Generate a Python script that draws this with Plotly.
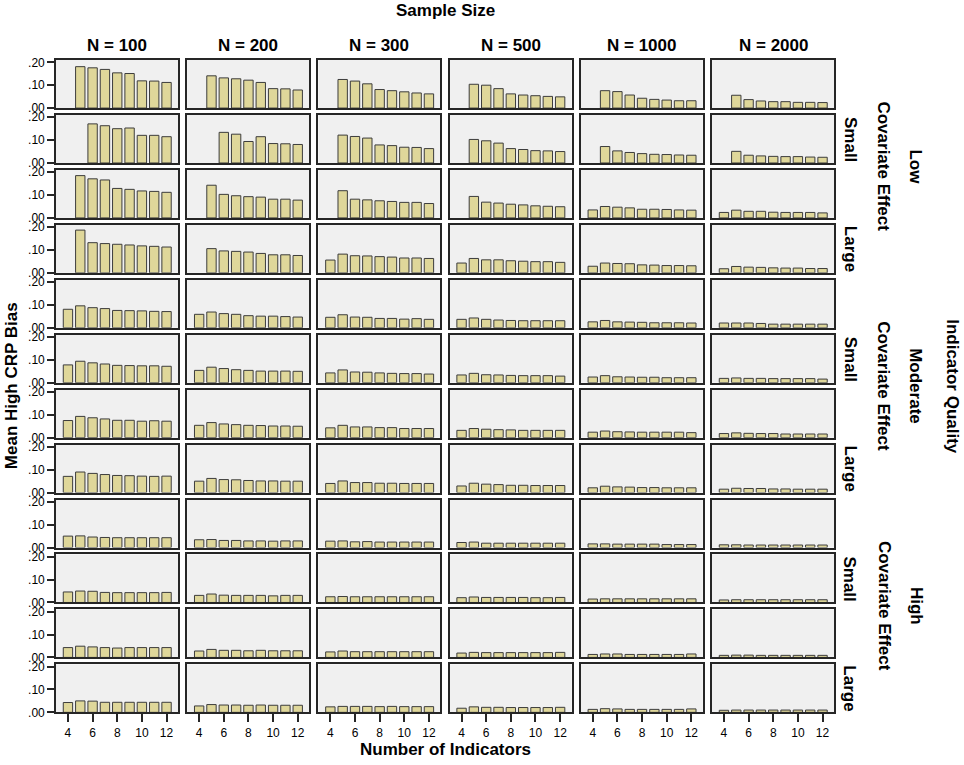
import plotly.graph_objects as go

# ---------------- data ----------------
indicators = [4, 5, 6, 7, 8, 9, 10, 11, 12]
sample_sizes = ["N = 100", "N = 200", "N = 300", "N = 500", "N = 1000", "N = 2000"]
quality_levels = ["Low", "Moderate", "High"]
covariate_levels = ["Small", "Large"]
x_tick_vals = [4, 6, 8, 10, 12]
y_tick_vals = [0.0, 0.1, 0.2]
y_tick_text = [".00", ".10", ".20"]

N = None  # no bar for this cell

# Low indicator quality
row01 = [
    [N, .181, .176, .169, .154, .151, .119, .118, .112],
    [N, .141, .132, .128, .122, .112, .085, .084, .079],
    [N, .125, .118, .106, .081, .076, .071, .066, .062],
    [N, .104, .100, .085, .062, .057, .054, .051, .049],
    [N, .076, .072, .057, .043, .038, .035, .032, .032],
    [N, .056, .037, .031, .028, .028, .025, .025, .024],
]
row02 = [
    [N, N, .171, .163, .150, .153, .121, .121, .115],
    [N, N, .134, .126, .094, .115, .085, .084, .081],
    [N, .122, .116, .109, .079, .076, .069, .068, .063],
    [N, .103, .097, .087, .063, .059, .054, .053, .050],
    [N, .072, .053, .046, .041, .038, .037, .035, .034],
    [N, .051, .034, .031, .029, .028, .028, .026, .025],
]
row03 = [
    [N, .185, .171, .166, .129, .125, .118, .116, .112],
    [N, .143, .103, .097, .093, .091, .082, .082, .078],
    [N, .119, .082, .079, .075, .072, .068, .068, .063],
    [N, .094, .069, .065, .060, .057, .053, .051, .049],
    [.035, .050, .047, .044, .038, .038, .037, .035, .034],
    [.024, .034, .029, .029, .025, .024, .024, .024, .022],
]
row04 = [
    [N, .187, .132, .128, .125, .122, .118, .116, .113],
    [N, .106, .096, .094, .091, .085, .079, .079, .076],
    [.056, .082, .075, .074, .071, .069, .065, .065, .063],
    [.043, .063, .057, .057, .053, .051, .049, .049, .046],
    [.029, .043, .041, .040, .035, .034, .032, .032, .031],
    [.018, .028, .025, .024, .022, .021, .021, .019, .019],
]
# Moderate indicator quality
row05 = [
    [.081, .096, .088, .084, .076, .075, .074, .072, .071],
    [.059, .069, .062, .059, .053, .051, .051, .049, .047],
    [.046, .057, .047, .046, .041, .041, .038, .040, .037],
    [.037, .043, .037, .034, .032, .031, .031, .031, .031],
    [.026, .032, .026, .025, .024, .022, .022, .022, .021],
    [.021, .021, .021, .019, .016, .016, .016, .016, .016],
]
row06 = [
    [.078, .094, .087, .082, .076, .075, .074, .074, .072],
    [.054, .068, .062, .057, .054, .051, .051, .051, .050],
    [.043, .056, .047, .046, .043, .041, .040, .040, .038],
    [.034, .041, .035, .034, .032, .031, .031, .031, .029],
    [.025, .031, .026, .025, .024, .024, .022, .022, .022],
    [.019, .021, .019, .019, .018, .018, .018, .018, .016],
]
row07 = [
    [.075, .093, .087, .082, .076, .076, .072, .074, .072],
    [.054, .066, .060, .057, .054, .053, .051, .051, .050],
    [.043, .054, .047, .047, .044, .044, .040, .040, .040],
    [.032, .040, .037, .035, .034, .032, .032, .032, .032],
    [.024, .029, .026, .025, .024, .024, .024, .024, .022],
    [.018, .021, .019, .018, .018, .016, .016, .016, .016],
]
row08 = [
    [.071, .090, .084, .079, .075, .074, .072, .071, .072],
    [.050, .062, .057, .056, .053, .051, .051, .050, .050],
    [.040, .051, .044, .044, .041, .041, .040, .040, .040],
    [.029, .041, .037, .035, .032, .032, .031, .031, .031],
    [.021, .028, .025, .024, .022, .022, .021, .021, .021],
    [.015, .019, .018, .018, .016, .016, .015, .015, .015],
]
# High indicator quality
row09 = [
    [.050, .051, .046, .044, .043, .043, .043, .043, .043],
    [.034, .035, .031, .031, .029, .029, .028, .029, .029],
    [.028, .029, .025, .026, .024, .024, .024, .024, .024],
    [.022, .024, .019, .019, .019, .019, .019, .019, .019],
    [.016, .016, .015, .015, .015, .015, .013, .013, .013],
    [.012, .012, .011, .011, .011, .011, .011, .011, .011],
]
row10 = [
    [.046, .050, .049, .044, .043, .043, .043, .043, .044],
    [.031, .037, .032, .031, .031, .031, .029, .031, .031],
    [.025, .026, .025, .025, .025, .025, .025, .025, .025],
    [.021, .024, .022, .022, .022, .022, .021, .021, .022],
    [.015, .016, .016, .016, .016, .016, .016, .016, .016],
    [.011, .012, .012, .012, .012, .012, .012, .012, .012],
]
row11 = [
    [.043, .049, .046, .043, .041, .043, .043, .043, .043],
    [.028, .035, .031, .031, .029, .031, .029, .029, .029],
    [.024, .028, .025, .025, .025, .025, .025, .025, .025],
    [.019, .022, .021, .021, .021, .021, .021, .021, .022],
    [.013, .015, .015, .013, .013, .013, .013, .013, .015],
    [.009, .010, .010, .009, .009, .009, .009, .009, .009],
]
row12 = [
    [.043, .050, .049, .044, .044, .044, .044, .044, .044],
    [.028, .034, .032, .032, .031, .032, .031, .031, .031],
    [.024, .026, .026, .026, .025, .026, .025, .025, .025],
    [.018, .024, .022, .022, .021, .021, .021, .021, .022],
    [.013, .016, .015, .013, .013, .013, .013, .013, .015],
    [.009, .010, .010, .010, .010, .010, .010, .010, .010],
]
rows = [row01, row02, row03, row04, row05, row06,
        row07, row08, row09, row10, row11, row12]

# ---------------- styling / geometry ----------------
W, H = 964, 765
FONT = "Liberation Sans, Arial, sans-serif"
BAR_FILL = "#DFD79A"
BAR_EDGE = "#3C3C3C"
FRAME = "#262626"

# panel geometry in target-picture pixels
col_left0, col_step, col_w = 56.0, 131.2, 122.0
row_top0, row_step, row_h = 60.0, 54.9, 48.0

# small vertical correction for how the page is photographed
Y_OFF, Y_SCALE = 4.0, 0.985


def fy(y_px):
    """target pixel row -> figure pixel row"""
    return (y_px - Y_OFF) / Y_SCALE


def xdom(c):
    l = col_left0 + c * col_step
    return [l / W, (l + col_w) / W]


def ydom(r):
    t = fy(row_top0 + r * row_step)
    b = fy(row_top0 + r * row_step + row_h)
    return [(H - b) / H, (H - t) / H]


fig = go.Figure()
layout = dict(
    width=W, height=H,
    margin=dict(l=0, r=0, t=0, b=0),
    paper_bgcolor="white", plot_bgcolor="#F0F0F0",
    showlegend=False,
    font=dict(family=FONT, color="black", size=12),
)

n_rows, n_cols = len(rows), len(sample_sizes)
for r in range(n_rows):
    for c in range(n_cols):
        idx = r * n_cols + c + 1
        sfx = "" if idx == 1 else str(idx)
        fig.add_trace(go.Bar(
            x=indicators, y=rows[r][c],
            width=0.76,
            marker=dict(color=BAR_FILL, line=dict(color=BAR_EDGE, width=1)),
            xaxis="x" + sfx, yaxis="y" + sfx,
            hoverinfo="x+y",
        ))
        bottom = (r == n_rows - 1)
        left = (c == 0)
        layout["xaxis" + sfx] = dict(
            domain=xdom(c), anchor="y" + sfx,
            range=[3.03, 12.93],
            showgrid=False, zeroline=False,
            showline=True, mirror=True, linecolor=FRAME, linewidth=1.6,
            tickvals=x_tick_vals if bottom else [],
            ticks="outside" if bottom else "",
            ticklen=8, tickwidth=1.6, tickcolor=FRAME,
            showticklabels=bottom,
            tickfont=dict(size=12, family=FONT, color="black"),
            fixedrange=True,
        )
        layout["yaxis" + sfx] = dict(
            domain=ydom(r), anchor="x" + sfx,
            range=[0, 0.21],
            showgrid=False, zeroline=False,
            showline=True, mirror=True, linecolor=FRAME, linewidth=1.6,
            tickvals=y_tick_vals if left else [],
            ticktext=y_tick_text if left else [],
            ticks="outside" if left else "",
            ticklen=7, tickwidth=1.6, tickcolor=FRAME,
            showticklabels=left,
            tickfont=dict(size=12, family=FONT, color="black"),
            fixedrange=True,
        )

ann = []


def label(text, x, y, angle=0, size=17):
    ann.append(dict(text="<b>" + text + "</b>", x=x / W, y=1 - fy(y) / H,
                    xref="paper", yref="paper", showarrow=False,
                    xanchor="center", yanchor="middle", textangle=angle,
                    font=dict(family=FONT, size=size, color="black")))


grid_cx = col_left0 + (n_cols - 1) * col_step / 2 + col_w / 2
grid_top = row_top0
grid_bottom = row_top0 + (n_rows - 1) * row_step + row_h
grid_cy = (grid_top + grid_bottom) / 2

label("Sample Size", grid_cx, 10)
for c, s in enumerate(sample_sizes):
    label(s, col_left0 + c * col_step + col_w / 2, 45)
label("Number of Indicators", grid_cx, 749)
label("Mean High CRP Bias", 11, grid_cy, angle=-90)

for q, qname in enumerate(quality_levels):
    r0 = q * 4
    top = row_top0 + r0 * row_step
    bot = row_top0 + (r0 + 3) * row_step + row_h
    label(qname, 916, (top + bot) / 2, angle=90)
    label("Covariate Effect", 884, (top + bot) / 2, angle=90)
    for k, cname in enumerate(covariate_levels):
        rr = r0 + 1 + 2 * k
        label(cname, 850, row_top0 + rr * row_step + row_h / 2, angle=90)
label("Indicator Quality", 953, grid_cy, angle=90)

layout["annotations"] = ann
fig.update_layout(**layout)
fig.write_html(
    "out.html",
    config={"displayModeBar": False},
    post_script="document.body.style.margin='0px';document.body.style.overflow='hidden';",
)
